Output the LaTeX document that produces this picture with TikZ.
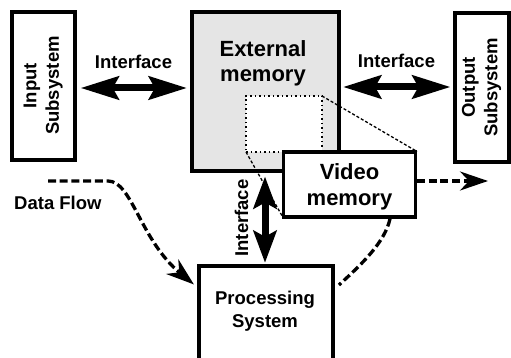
\documentclass[tikz,border=0pt]{standalone}
\usepackage{fontspec}
\setmainfont{Liberation Sans}
\usetikzlibrary{arrows.meta}
\begin{document}
\begin{tikzpicture}[x=1pt,y=-1pt,
  box/.style={draw=black, line width=4pt, fill=white, inner sep=0pt},
  lbl/.style={font=\bfseries\fontsize{18.5}{22.5}\selectfont, align=center, inner sep=0pt},
  biglbl/.style={font=\bfseries\fontsize{22}{25}\selectfont, align=center, inner sep=0pt},
  dblh/.style={line width=7pt, {Stealth[length=38pt,width=23pt,inset=6pt]}-{Stealth[length=38pt,width=23pt,inset=6pt]}},
  dblv/.style={line width=7pt, {Stealth[length=32pt,width=23pt,inset=6pt]}-{Stealth[length=32pt,width=23pt,inset=6pt]}},
  flowline/.style={line width=3.3pt, dash pattern=on 8pt off 3.7pt},
  flow/.style={flowline, -{Stealth[length=28pt,width=19pt,inset=9pt]}},
  fine/.style={line width=1.3pt, dash pattern=on 3pt off 2pt},
  dotbox/.style={draw=black, line width=1.5pt, dash pattern=on 1.5pt off 3pt, fill=white, inner sep=0pt, outer sep=0pt},
]
\useasboundingbox (0,0) rectangle (511,358);

% boxes
\node[box, lbl, rotate=90, minimum width=148pt, minimum height=63.3pt] (inp) at (43.3,85.6) {Input\\Subsystem};
\node[box, lbl, rotate=90, minimum width=148.4pt, minimum height=54.2pt] (outp) at (481.6,87.5) {Output\\Subsystem};
\node[box, fill=gray!20, minimum width=147.5pt, minimum height=158.5pt] (em) at (265.25,91.75) {};
\node[biglbl, anchor=base] (emt) at (263,82) {External\\memory};
\node[dotbox, minimum width=76pt, minimum height=56pt] (dr) at (284,124) {};
\draw[fine] (dr.north east) -- (417,151.5) coordinate (vmne);
\draw[fine] (dr.south west) -- (283,217.5) coordinate (vmsw);
\node[box, line width=3.5pt, minimum width=132pt, minimum height=65pt] (vm) at (349.3,184.5) {};
\node[biglbl, anchor=base] (vmt) at (349.5,205) {Video\\memory};
\node[box, minimum width=133.5pt, minimum height=96.2pt] (proc) at (265.75,313.9) {};
\node[lbl, anchor=base] (proct) at (265,327) {Processing\\System};

% interface arrows
\coordinate (yl) at (0,88);
\coordinate (yr) at (0,87);
\coordinate (vx) at (265,0);
\draw[dblh, shorten <=3.7pt, shorten >=2.5pt] (inp.south |- yl) -- (em.west |- yl);
\draw[dblh, shorten <=2pt, shorten >=2pt] (em.east |- yr) -- (outp.north |- yr);
\draw[dblv, shorten <=3.5pt, shorten >=1pt] (em.south -| vx) -- (proc.north -| vx);
\node[lbl, anchor=base] (if1) at (133.5,69) {Interface};
\node[lbl, anchor=base] (if2) at (396.5,68) {Interface};
\node[lbl, anchor=base, rotate=90] (if3) at (248,218) {Interface};

% data flow
\node[lbl, anchor=base west] (dfl) at (14,209) {Data Flow};
\coordinate (dfs) at (48,181);
\coordinate (dfe) at (0,287);
\draw[flow, shorten >=4pt] (dfs) -- (108,181) .. controls (132,181) and (140,240) .. (proc.west |- dfe);
\coordinate (vo) at (488,181);
\draw[flow] (vm.east |- vo) -- (vo);
\coordinate (vb) at (390,0);
\coordinate (pe) at (0,289);
\draw[flowline, shorten >=6pt] (vm.south -| vb) .. controls (385,242) and (362,264) .. (proc.east |- pe);
\end{tikzpicture}
\end{document}
